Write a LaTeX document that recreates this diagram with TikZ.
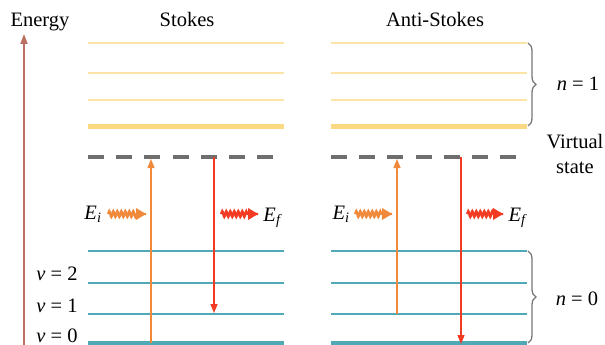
\documentclass[tikz,border=0pt]{standalone}
\usepackage{fontspec}
\setmainfont{Liberation Serif}
\usetikzlibrary{decorations.pathmorphing,decorations.pathreplacing,arrows.meta}
\definecolor{ylw}{HTML}{FBE4A6}
\definecolor{ylwthick}{HTML}{FAD982}
\definecolor{cyn}{HTML}{4FA9B6}
\definecolor{dgray}{HTML}{6E6E6E}
\definecolor{orng}{HTML}{F0893A}
\definecolor{rd}{HTML}{F23B22}
\definecolor{enrg}{HTML}{B9705E}
\definecolor{brc}{HTML}{777777}
\begin{document}
\begin{tikzpicture}[x=1pt,y=-1pt,font=\fontsize{20.5}{24}\selectfont,
  ythin/.style={draw=ylw,line width=2pt},
  ythick/.style={draw=ylwthick,line width=5pt},
  cthin/.style={draw=cyn,line width=2pt},
  cthick/.style={draw=cyn,line width=4pt},
  virt/.style={draw=dgray,line width=4pt,dash pattern=on 16pt off 12.2pt},
  uparr/.style={draw=orng,line width=1.4pt,-{Triangle[length=9pt,width=7pt]}},
  dnarr/.style={draw=rd,line width=1.4pt,-{Triangle[length=9pt,width=7pt]}},
  wavy/.style={line width=2.2pt,decorate,decoration={snake,amplitude=3pt,segment length=4pt,post length=9pt}},
  lbl/.style={inner sep=0pt,anchor=base},
  bracestyle/.style={draw=brc,line width=1.3pt,decorate,decoration={brace,amplitude=8pt}}]
\useasboundingbox (0,0) rectangle (605,345);
% energy axis
\coordinate (ebot) at (24,345);
\coordinate (etop) at (24,34);
\draw[enrg,line width=2pt,-{Triangle[length=10pt,width=7pt]}] (ebot) -- (etop);
\node[lbl] (energy) at (40,27) {Energy};
\node[lbl] (stokes) at (187,27) {Stokes};
\node[lbl] (anti) at (435,27) {Anti-Stokes};
% levels
\foreach \xa/\xb in {88/284,331/527}{
  \draw[ythin] (\xa,43) -- (\xb,43);
  \draw[ythin] (\xa,73) -- (\xb,73);
  \draw[ythin] (\xa,100) -- (\xb,100);
  \draw[ythick] (\xa,126) -- (\xb,126);
  \draw[cthin] (\xa,251) -- (\xb,251);
  \draw[cthin] (\xa,283) -- (\xb,283);
  \draw[cthin] (\xa,314) -- (\xb,314);
  \draw[cthick] (\xa,343) -- (\xb,343);
}
\draw[virt] (88,157) -- (284,157);
\draw[virt] (331,157) -- (527,157);
% Stokes transitions
\coordinate (s0) at (151,343);
\coordinate (sv) at (151,159);
\coordinate (sr0) at (214,157);
\coordinate (sr1) at (214,313);
\draw[uparr] (s0) -- (sv);
\draw[dnarr] (sr0) -- (sr1);
% Anti-Stokes transitions
\coordinate (a1) at (397,314);
\coordinate (av) at (397,159);
\coordinate (ar0) at (461,157);
\coordinate (ar1) at (461,344);
\draw[uparr] (a1) -- (av);
\draw[dnarr] (ar0) -- (ar1);
% photons
\node[lbl] (ei1) at (93,219) {\itshape E\textsubscript{i}};
\node[lbl] (ef1) at (272,221) {\itshape E\textsubscript{f}};
\node[lbl] (ei2) at (341,219) {\itshape E\textsubscript{i}};
\node[lbl] (ef2) at (517,221) {\itshape E\textsubscript{f}};
\coordinate (w1a) at (108,214); \coordinate (w1b) at (146,214);
\coordinate (w2a) at (221,214); \coordinate (w2b) at (258,214);
\coordinate (w3a) at (355,214); \coordinate (w3b) at (392,214);
\coordinate (w4a) at (467,214); \coordinate (w4b) at (503,214);
\draw[wavy,orng] (w1a) -- (w1b);
\draw[wavy,rd] (w2a) -- (w2b);
\draw[wavy,orng] (w3a) -- (w3b);
\draw[wavy,rd] (w4a) -- (w4b);
\fill[orng] (w1b) ++(-10,-6) -- (w1b) -- ++(-10,6) -- cycle;
\fill[rd] (w2b) ++(-10,-6) -- (w2b) -- ++(-10,6) -- cycle;
\fill[orng] (w3b) ++(-10,-6) -- (w3b) -- ++(-10,6) -- cycle;
\fill[rd] (w4b) ++(-10,-6) -- (w4b) -- ++(-10,6) -- cycle;
% v labels
\node[lbl] (v2) at (57,280) {\itshape v\upshape\ = 2};
\node[lbl] (v1) at (57,312) {\itshape v\upshape\ = 1};
\node[lbl] (v0) at (57,342) {\itshape v\upshape\ = 0};
% braces
\coordinate (b1t) at (528,43); \coordinate (b1b) at (528,126);
\coordinate (b0t) at (528,251); \coordinate (b0b) at (528,343);
\draw[bracestyle] (b1t) -- (b1b);
\draw[bracestyle] (b0t) -- (b0b);
\node[lbl] (n1) at (578,91) {\itshape n\upshape\ = 1};
\node[lbl] (n0) at (577,305) {\itshape n\upshape\ = 0};
\node[lbl] (vir) at (575,148) {Virtual};
\node[lbl] (sta) at (575,173) {state};
\end{tikzpicture}
\end{document}
